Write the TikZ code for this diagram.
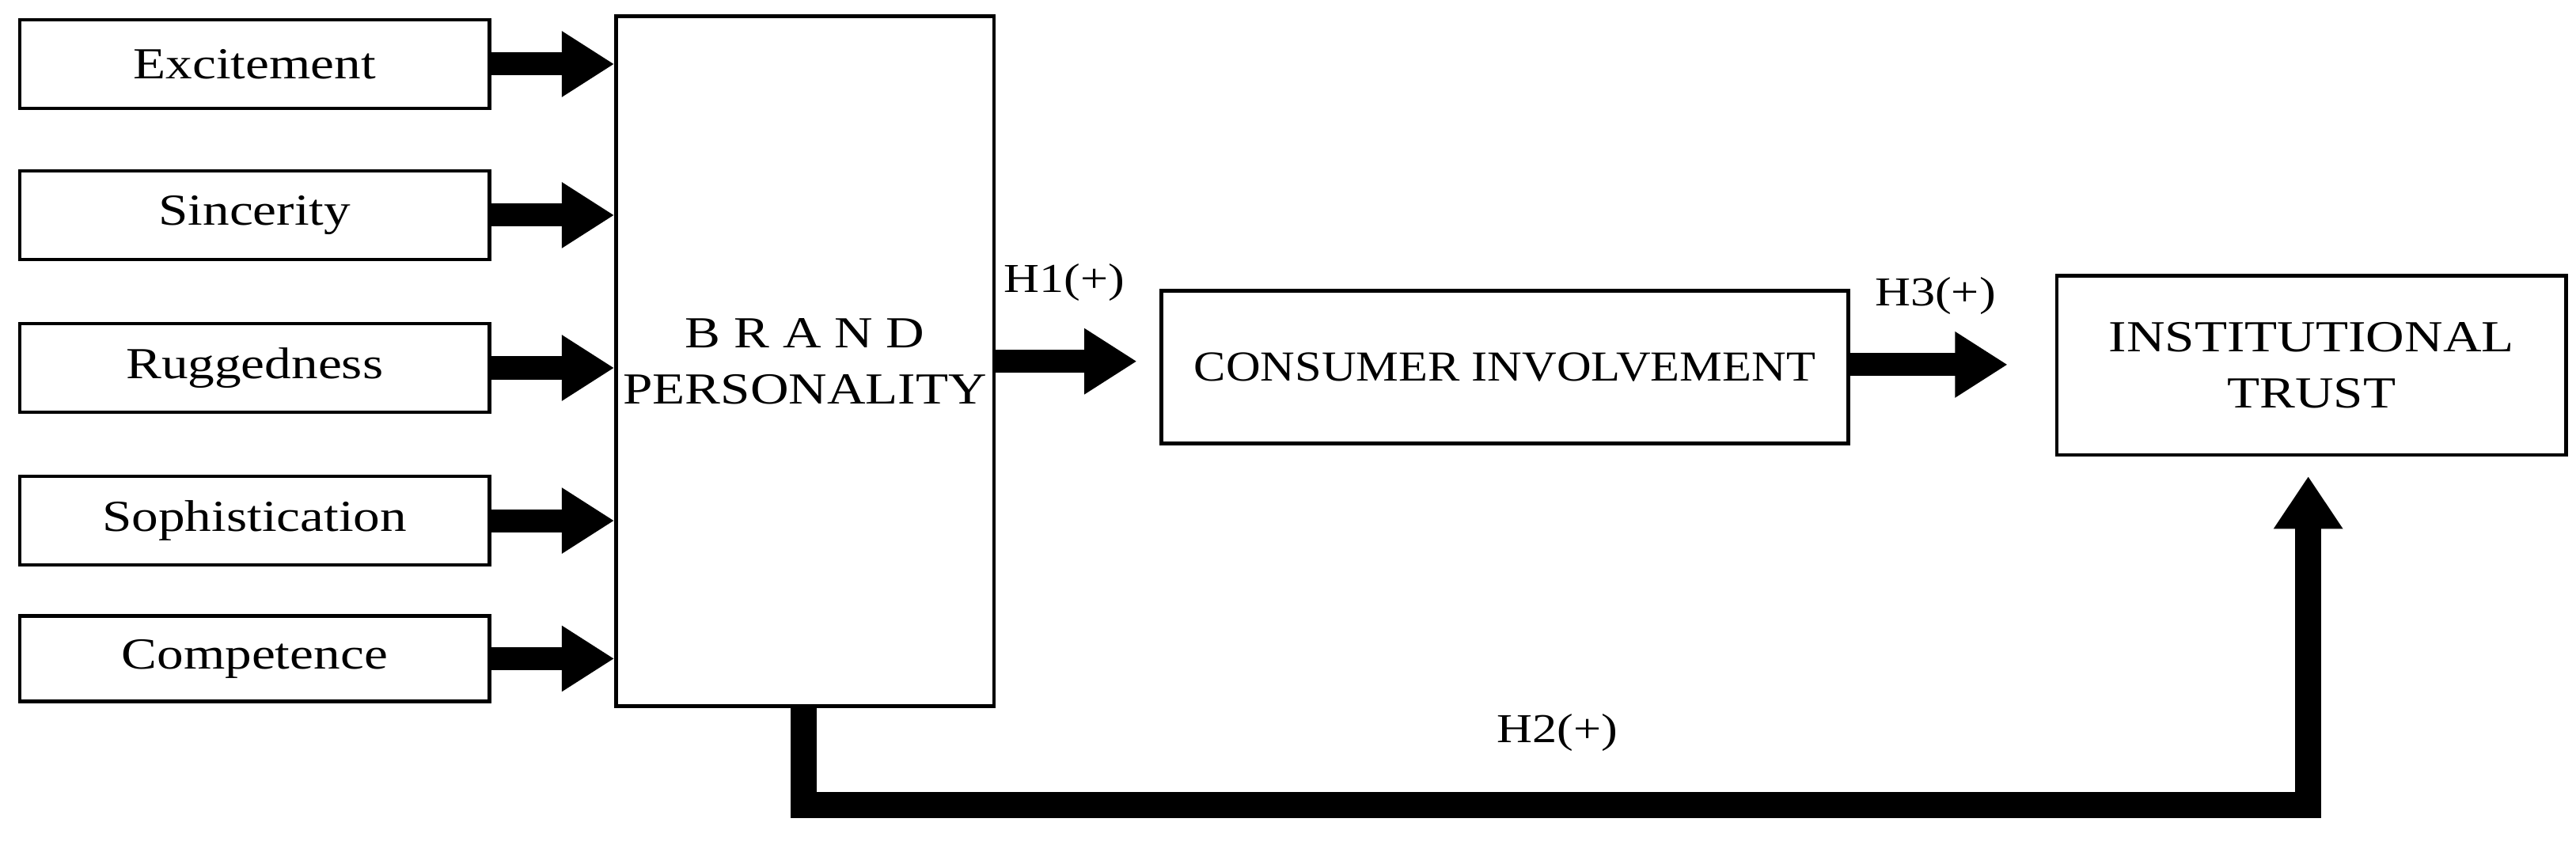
\documentclass[tikz,border=0pt]{standalone}
\usepackage{fontspec}
\setmainfont{Liberation Serif}
\usetikzlibrary{arrows.meta}
\newcommand{\widetxt}[1]{\scalebox{1.2}[1]{#1}}
\begin{document}
\begin{tikzpicture}[x=0.5pt,y=-0.5pt,
 box/.style={draw,line width=1.1pt,inner sep=0pt},
 fat/.style={line width=7pt,-{Triangle[length=16pt,width=19pt]}},
 lab/.style={font=\fontsize{12.5}{14}\selectfont}]
\useasboundingbox (0,0) rectangle (1568,514);
\foreach \n/\t/\a/\b in {e/Excitement/12/66,s/Sincerity/104/158,r/Ruggedness/197/251,p/Sophistication/290/344,c/Competence/375/427}{
  \node[box,minimum width=143pt,minimum height={(\b-\a)*0.5pt},font=\fontsize{13.5}{15}\selectfont] (\n) at (155,{(\a+\b)/2}) {\widetxt{\t}};
}
\node[box,minimum width=115pt,minimum height=210pt,align=center,font=\fontsize{13.5}{17}\selectfont] (bp) at (490,220) {\widetxt{B R A N D}\\\widetxt{PERSONALITY}};
\node[box,minimum width=209pt,minimum height=46.5pt,font=\fontsize{13}{15}\selectfont] (ci) at (916,223.5) {\scalebox{1.12}[1]{CONSUMER INVOLVEMENT}};
\node[box,minimum width=155pt,minimum height=54.5pt,align=center,font=\fontsize{13.5}{17}\selectfont] (it) at (1407,222.5) {\widetxt{INSTITUTIONAL}\\\widetxt{TRUST}};
\foreach \n in {e,s,r,p,c}{
  \draw[fat] (\n.east) -- (\n.east -| bp.west);
}
\coordinate (h1e) at (692,220);
\coordinate (h3e) at (1222,222);
\draw[fat] (bp.east |- h1e) -- (h1e);
\draw[fat] (ci.east |- h3e) -- (h3e);
\node[lab] (h1) at (648,172) {\widetxt{H1(+)}};
\node[lab] (h3) at (1178,180) {\widetxt{H3(+)}};
\coordinate (a) at (489,490);
\coordinate (b) at (1405,490);
\coordinate (c) at (1405,290);
\draw[line width=8pt,-{Triangle[length=16pt,width=20pt]}] (bp.south -| a) -- (a) -- (b) -- (c);
\node[lab] (h2) at (948,446) {\widetxt{H2(+)}};
\end{tikzpicture}
\end{document}
